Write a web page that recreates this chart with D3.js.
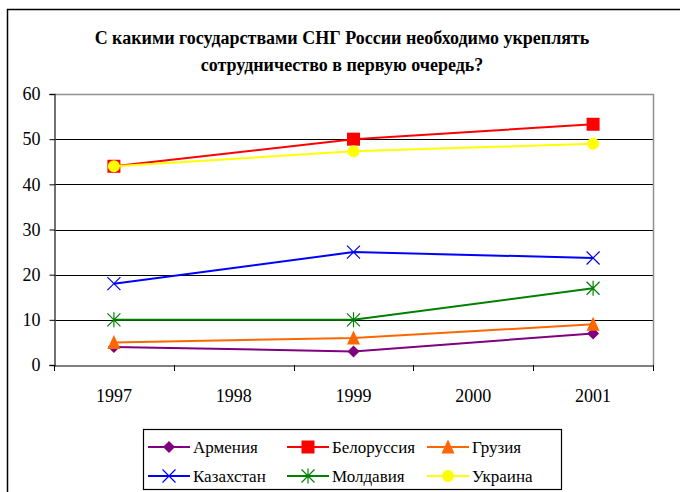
<!DOCTYPE html>
<html><head><meta charset="utf-8">
<script src="https://cdn.jsdelivr.net/npm/d3@7"></script>
</head><body style="margin:0"><svg id="c" width="680" height="492" font-family="Liberation Serif"></svg>
<script>
const categories = ["1997","1998","1999","2000","2001"];
const dataYears = ["1997","1999","2001"];
const seriesNames = ["Армения","Белоруссия","Грузия","Казахстан","Молдавия","Украина"];
const armenia = [4, 3, 7];
const belarus = [44, 50, 53.3];
const georgia = [5, 6, 9];
const kazakhstan = [18, 25, 23.7];
const moldova = [10, 10, 17];
const ukraine = [44, 47.3, 49];
const yTicks = [0,10,20,30,40,50,60];
const titleLines = ["С какими государствами СНГ России необходимо укреплять","сотрудничество в первую очередь?"];

const colors = ["#800080","#FF0000","#FF6600","#0000FF","#008000","#FFFF00"];
const markers = ["diamond","square","triangle","x","star","circle"];
const values = [armenia, belarus, georgia, kazakhstan, moldova, ukraine];
const FF = '"Liberation Serif"';

const svg = d3.select("#c");
svg.append("rect").attr("x",7.5).attr("y",9.5).attr("width",700).attr("height",500)
  .attr("fill","none").attr("stroke","#000").attr("stroke-width",1.5);

svg.selectAll("text.title").data(titleLines).join("text").attr("class","title")
  .attr("x",342).attr("y",(d,i)=>44+i*27).attr("text-anchor","middle")
  .attr("font-weight","bold").attr("font-size",18).style("font-family",FF).text(d=>d);

const L=54, R=653, T=94, B=365;
const x = d3.scaleBand().domain(categories).range([L,R]);
const y = d3.scaleLinear().domain([0,60]).range([B,T]);

svg.append("g").selectAll("line").data(yTicks.filter(t=>t>0&&t<60)).join("line")
  .attr("x1",L).attr("x2",R).attr("y1",d=>Math.round(y(d))+0.5).attr("y2",d=>Math.round(y(d))+0.5)
  .attr("stroke","#000").attr("stroke-width",1);
svg.append("path").attr("d",`M${L},${T+0.5}H${R+0.5}V${B}`).attr("fill","none").attr("stroke","#909090").attr("stroke-width",1.5);

const ya = svg.append("g").attr("transform",`translate(${L+0.5},0)`)
  .call(d3.axisLeft(y).tickValues(yTicks).tickSize(5).tickPadding(9).tickFormat(d3.format("d")));
ya.attr("font-family","Liberation Serif").attr("font-size",18);
ya.select(".domain").attr("stroke","#444").attr("stroke-width",1.5);
ya.selectAll(".tick line").attr("stroke","#000");
ya.selectAll("text").attr("fill","#000").style("font-family",FF);

const xa = svg.append("g").attr("transform",`translate(0,${B+0.5})`)
  .call(d3.axisBottom(x).tickSize(0).tickPadding(24));
xa.attr("font-family","Liberation Serif").attr("font-size",18);
xa.select(".domain").attr("stroke","#000").attr("stroke-width",1.2);
xa.selectAll("text").attr("fill","#000").style("font-family",FF);
const bounds = categories.map(c=>x(c)).concat([R]);
svg.append("g").selectAll("line").data(bounds).join("line")
  .attr("x1",d=>Math.round(d)+0.5).attr("x2",d=>Math.round(d)+0.5).attr("y1",B).attr("y2",B+6)
  .attr("stroke","#000");

function drawMarker(g, type, color, cx, cy, s){
  const r = s/2;
  if(type==="diamond") g.append("path").attr("d",`M${cx},${cy-r}L${cx+r},${cy}L${cx},${cy+r}L${cx-r},${cy}Z`).attr("fill",color);
  else if(type==="square") g.append("rect").attr("x",cx-r).attr("y",cy-r).attr("width",s).attr("height",s).attr("fill",color);
  else if(type==="triangle") g.append("path").attr("d",`M${cx},${cy-r-1}L${cx+r},${cy+r}L${cx-r},${cy+r}Z`).attr("fill",color);
  else if(type==="circle") g.append("circle").attr("cx",cx).attr("cy",cy).attr("r",r).attr("fill",color);
  else if(type==="x") g.append("path").attr("d",`M${cx-r},${cy-r}L${cx+r},${cy+r}M${cx+r},${cy-r}L${cx-r},${cy+r}`).attr("stroke",color).attr("stroke-width",1.2);
  else if(type==="star") g.append("path").attr("d",`M${cx-r},${cy-r}L${cx+r},${cy+r}M${cx+r},${cy-r}L${cx-r},${cy+r}M${cx},${cy-r-1}L${cx},${cy+r+1}`).attr("stroke",color).attr("stroke-width",1.2);
}

const line = d3.line().x(d=>x(d[0])+x.bandwidth()/2).y(d=>y(d[1]));
const sizes = [12,13,13,13,13,12];
seriesNames.forEach((n,i)=>{
  const pts = dataYears.map((yr,j)=>[yr,values[i][j]]);
  const g = svg.append("g");
  g.append("path").attr("d",line(pts)).attr("fill","none").attr("stroke",colors[i]).attr("stroke-width",2);
  pts.forEach(p=>drawMarker(g,markers[i],colors[i],x(p[0])+x.bandwidth()/2,y(p[1]),sizes[i]));
});

svg.append("rect").attr("x",143.5).attr("y",429.5).attr("width",418).attr("height",60)
  .attr("fill","#fff").attr("stroke","#000").attr("stroke-width",1.2);
const colX=[148,287,427], rowY=[447,476];
seriesNames.forEach((n,i)=>{
  const cx=colX[i%3], cy=rowY[Math.floor(i/3)];
  const g=svg.append("g");
  g.append("line").attr("x1",cx).attr("x2",cx+42).attr("y1",cy).attr("y2",cy).attr("stroke",colors[i]).attr("stroke-width",2);
  drawMarker(g,markers[i],colors[i],cx+21,cy,sizes[i]);
  g.append("text").attr("x",cx+45).attr("y",cy+6).attr("font-size",17).style("font-family",FF).text(n);
});
</script></body></html>
